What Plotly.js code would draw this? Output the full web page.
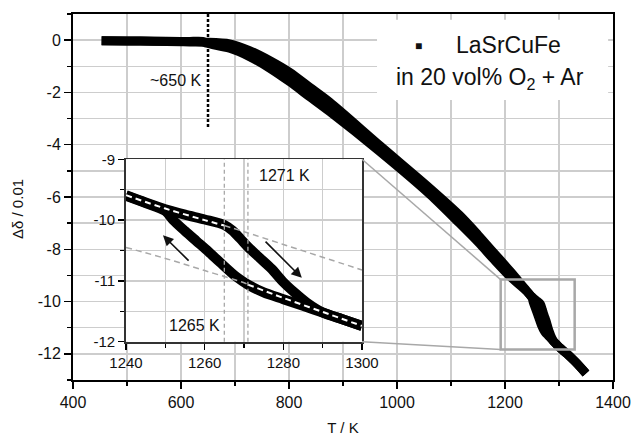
<!DOCTYPE html>
<html><head><meta charset="utf-8">
<script src="https://cdn.plot.ly/plotly-3.0.1.min.js"></script>
<style>html,body{margin:0;padding:0;background:#fff}</style>
</head><body>
<div id="chart" style="width:634px;height:436px"></div>
<script>
// ---- main curve (two runs forming the thick band), T in K, delta-delta in 0.01 units
const mainT     = [453, 500, 550, 600, 616, 640, 648, 690, 727, 764, 801, 838, 875, 968, 1061, 1116, 1150, 1180, 1210];
const mainUpper = [-0.02, -0.03, -0.04, -0.06, -0.07, -0.08, -0.08, -0.14, -0.40, -0.78, -1.23, -1.80, -2.37, -4.03, -5.67, -6.70, -7.45, -8.15, -8.85];
const mainLower = [-0.02, -0.03, -0.04, -0.05, -0.05, -0.05, -0.12, -0.31, -0.63, -1.07, -1.59, -2.16, -2.73, -4.26, -5.90, -7.01, -7.72, -8.40, -9.05];
const tailT = [1315, 1330, 1350];
const tailD = [-12.0, -12.3, -12.75];

// ---- hysteresis loop (inset)
const heatT = [1240, 1245, 1250, 1255, 1260, 1265, 1267, 1269, 1271, 1274, 1277, 1280, 1283, 1286, 1290, 1295, 1300];
const heatD = [-9.59, -9.71, -9.82, -9.91, -9.99, -10.08, -10.17, -10.30, -10.44, -10.62, -10.80, -11.02, -11.20, -11.36, -11.52, -11.63, -11.74];
const coolT = [1240, 1245, 1250, 1252, 1255, 1258, 1261, 1264, 1268, 1271, 1275, 1280, 1285, 1290, 1295, 1300];
const coolD = [-9.60, -9.72, -9.85, -10.00, -10.18, -10.35, -10.52, -10.70, -10.93, -11.06, -11.19, -11.30, -11.41, -11.52, -11.63, -11.74];

// ---- linear-regime fit lines
const fitUpT = [1240, 1250, 1260, 1265, 1270, 1280, 1290, 1300];
const fitUpD = [-9.59, -9.81, -10.00, -10.09, -10.19, -10.40, -10.61, -10.82];
const fitLoT = [1240, 1250, 1260, 1270, 1271, 1280, 1290, 1300];
const fitLoD = [-10.45, -10.63, -10.83, -11.03, -11.06, -11.28, -11.51, -11.74];

// ---- markers / labels
const onsetT = 650, onsetYEnd = -3.35;
const refTemps = [1265, 1271];
const zoomBoxT = [1192, 1329];
const zoomBoxD = [-11.83, -9.16];
const yTickVals = [0, -2, -4, -6, -8, -10, -12];
const yTickText = ['0', '-2', '-4', '-6', '-8', '-10', '-12'];
const y2TickVals = [-9, -10, -11, -12];
const y2TickText = ['-9', '-10', '-11', '-12'];

const xMain = [400, 1400], yMain = [-13, 1];
const insetDomX = [0.0981, 0.5352], insetDomY = [0.1046, 0.603];

const black = '#000';
const gridC = '#cdcdcd';
const grayLine = '#a8a8a8';

function split(T, D, cond) {
  const x = [], y = [];
  T.forEach((t, i) => { if (cond(t)) { x.push(t); y.push(D[i]); } });
  return {x, y};
}

const traces = [];
// main band
traces.push({x: mainT.concat(heatT, tailT), y: mainUpper.concat(heatD, tailD), mode: 'lines',
  line: {color: black, width: 9, shape: 'spline', smoothing: 0.8}, xaxis: 'x', yaxis: 'y', hoverinfo: 'skip'});
traces.push({x: mainT.concat(coolT, tailT), y: mainLower.concat(coolD, tailD), mode: 'lines',
  line: {color: black, width: 9, shape: 'spline', smoothing: 0.8}, xaxis: 'x', yaxis: 'y', hoverinfo: 'skip'});
// inset loop
traces.push({x: heatT, y: heatD, mode: 'lines', line: {color: black, width: 10, shape: 'spline', smoothing: 0.8}, xaxis: 'x2', yaxis: 'y2'});
traces.push({x: coolT, y: coolD, mode: 'lines', line: {color: black, width: 10, shape: 'spline', smoothing: 0.8}, xaxis: 'x2', yaxis: 'y2'});
// fits
const upIn = split(fitUpT, fitUpD, t => t <= refTemps[0]);
const upOut = split(fitUpT, fitUpD, t => t >= refTemps[0]);
const loOut = split(fitLoT, fitLoD, t => t <= refTemps[1]);
const loIn = split(fitLoT, fitLoD, t => t >= refTemps[1]);
traces.push({x: upOut.x, y: upOut.y, mode: 'lines', line: {color: grayLine, width: 1.5, dash: '6px,4px', shape: 'spline'}, xaxis: 'x2', yaxis: 'y2'});
traces.push({x: loOut.x, y: loOut.y, mode: 'lines', line: {color: grayLine, width: 1.5, dash: '6px,4px', shape: 'spline'}, xaxis: 'x2', yaxis: 'y2'});
traces.push({x: upIn.x, y: upIn.y, mode: 'lines', line: {color: '#fff', width: 2, dash: '6px,4px', shape: 'spline'}, xaxis: 'x2', yaxis: 'y2'});
traces.push({x: loIn.x, y: loIn.y, mode: 'lines', line: {color: '#fff', width: 2, dash: '6px,4px', shape: 'spline'}, xaxis: 'x2', yaxis: 'y2'});

const toPX = t => (t - xMain[0]) / (xMain[1] - xMain[0]);
const toPY = d => (d - yMain[0]) / (yMain[1] - yMain[0]);

const shapes = [
  {type: 'line', xref: 'x', yref: 'y', x0: onsetT, x1: onsetT, y0: yMain[1], y1: onsetYEnd,
   line: {color: black, width: 2.5, dash: '3px,2px'}, layer: 'above'},
  {type: 'rect', xref: 'x', yref: 'y', x0: zoomBoxT[0], x1: zoomBoxT[1], y0: zoomBoxD[0], y1: zoomBoxD[1],
   line: {color: grayLine, width: 2.5}, layer: 'above'},
  {type: 'line', xref: 'paper', yref: 'paper', x0: insetDomX[1], y0: insetDomY[1], x1: toPX(zoomBoxT[0]), y1: toPY(zoomBoxD[1]),
   line: {color: grayLine, width: 1.5}, layer: 'above'},
  {type: 'line', xref: 'paper', yref: 'paper', x0: insetDomX[1], y0: insetDomY[0], x1: toPX(zoomBoxT[0]), y1: toPY(zoomBoxD[0]),
   line: {color: grayLine, width: 1.5}, layer: 'above'},
  // white box behind legend text
  {type: 'rect', xref: 'paper', yref: 'paper', x0: 0.563, x1: 0.991, y0: 0.765, y1: 0.984,
   fillcolor: '#fff', line: {width: 0}, layer: 'above'}
];
refTemps.forEach(t => shapes.push({type: 'line', xref: 'x2', yref: 'y2 domain', x0: t, x1: t, y0: 0, y1: 1,
  line: {color: grayLine, width: 1.3, dash: '4px,3px'}, layer: 'above'}));

const annotations = [
  {xref: 'paper', yref: 'paper', x: (17 - 73) / 540, y: (380 - 209) / 366, text: 'Δδ / 0.01', textangle: -90,
   showarrow: false, font: {size: 15}, xanchor: 'center', yanchor: 'middle'},
  {xref: 'x', yref: 'y', x: 640, y: -1.54, text: '~650 K', showarrow: false, xanchor: 'right', yanchor: 'middle', font: {size: 16}},
  {xref: 'x2', yref: 'y2', x: 1280.4, y: -9.26, text: '1271 K', showarrow: false, xanchor: 'center', yanchor: 'middle', font: {size: 16}},
  {xref: 'x2', yref: 'y2', x: 1264.5, y: -11.73, text: '1265 K', showarrow: false, xanchor: 'right', yanchor: 'middle', font: {size: 16}},
  {xref: 'x2', yref: 'y2', axref: 'x2', ayref: 'y2', x: 1249.4, y: -10.25, ax: 1256.3, ay: -10.69, text: '',
   showarrow: true, arrowhead: 2, arrowsize: 1.3, arrowwidth: 1.6, arrowcolor: '#111'},
  {xref: 'x2', yref: 'y2', axref: 'x2', ayref: 'y2', x: 1284.7, y: -10.95, ax: 1275.1, ay: -10.33, text: '',
   showarrow: true, arrowhead: 2, arrowsize: 1.3, arrowwidth: 1.6, arrowcolor: '#111'},
  {xref: 'paper', yref: 'paper', x: (418.5 - 73) / 540, y: (380 - 46) / 366, text: '■', showarrow: false,
   xanchor: 'center', yanchor: 'middle', font: {size: 12}},
  {xref: 'paper', yref: 'paper', x: (508 - 73) / 540, y: (380 - 45) / 366, text: 'LaSrCuFe', showarrow: false,
   xanchor: 'center', yanchor: 'middle', font: {size: 23}},
  {xref: 'paper', yref: 'paper', x: (490 - 73) / 540, y: (380 - 78) / 366, text: 'in 20 vol% O<sub>2</sub> + Ar', showarrow: false,
   xanchor: 'center', yanchor: 'middle', font: {size: 23}}
];

const axCommon = {ticks: 'outside', tickcolor: '#000', tickwidth: 1.5, showline: true, zeroline: false,
  showgrid: true, gridcolor: gridC, gridwidth: 1.3};

const layout = {
  width: 634, height: 436,
  margin: {l: 73, r: 21, t: 14, b: 56, pad: 0},
  paper_bgcolor: '#fff', plot_bgcolor: '#fff',
  font: {family: 'Liberation Sans, Arial, sans-serif', color: '#111'},
  showlegend: false,
  xaxis: Object.assign({}, axCommon, {range: xMain, domain: [0, 1], anchor: 'y', tick0: 400, dtick: 200, ticklen: 7,
    linecolor: '#000', linewidth: 2, mirror: true, tickfont: {size: 16},
    minor: {dtick: 100, ticks: 'outside', ticklen: 4, tickwidth: 1.5, tickcolor: '#000', showgrid: true, gridcolor: gridC, gridwidth: 1.3},
    title: {text: 'T / K', font: {size: 15}, standoff: 12}}),
  yaxis: Object.assign({}, axCommon, {range: yMain, domain: [0, 1], anchor: 'x', tickmode: 'array', tickvals: yTickVals, ticktext: yTickText,
    ticklen: 7, linecolor: '#000', linewidth: 2, mirror: true, tickfont: {size: 16},
    minor: {dtick: 1, ticks: 'outside', ticklen: 4, tickwidth: 1.5, tickcolor: '#000', showgrid: true, gridcolor: gridC, gridwidth: 1.3}}),
  xaxis2: Object.assign({}, axCommon, {range: [1240, 1300], domain: insetDomX, anchor: 'y2', tick0: 1240, dtick: 20, ticklen: 6,
    linecolor: '#333', linewidth: 1.8, mirror: true, tickfont: {size: 15},
    minor: {dtick: 10, ticks: 'outside', ticklen: 4, tickwidth: 1.5, tickcolor: '#000', showgrid: true, gridcolor: gridC, gridwidth: 1.3}}),
  yaxis2: Object.assign({}, axCommon, {range: [-12, -9], domain: insetDomY, anchor: 'x2', tickmode: 'array', tickvals: y2TickVals, ticktext: y2TickText,
    ticklen: 6, linecolor: '#333', linewidth: 1.8, mirror: true, tickfont: {size: 15},
    minor: {dtick: 0.5, ticks: 'outside', ticklen: 4, tickwidth: 1.5, tickcolor: '#000', showgrid: true, gridcolor: gridC, gridwidth: 1.3}}),
  shapes: shapes,
  annotations: annotations
};

Plotly.newPlot('chart', traces, layout, {displayModeBar: false, staticPlot: true});
</script>
</body></html>
